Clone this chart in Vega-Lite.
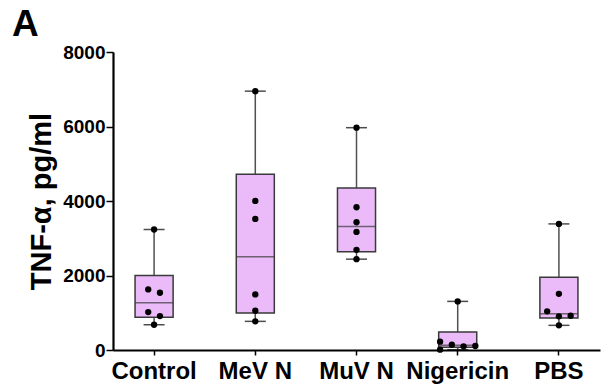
{
  "$schema": "https://vega.github.io/schema/vega-lite/v6.json",
  "width": 487,
  "height": 298,
  "autosize": {"type": "none"},
  "padding": {"left": 113, "top": 52, "right": 1, "bottom": 37},
  "background": "white",
  "config": {"view": {"stroke": null}, "font": "Liberation Sans"},
  "title": {"text": "A", "anchor": "start", "frame": "group", "fontSize": 37, "fontWeight": "bold", "color": "black", "font": "Liberation Sans", "dx": -101, "offset": -1},
  "datasets": {
    "summary": [
      {"group": "Control", "min": 678, "q1": 876, "median": 1268, "q3": 2000, "max": 3235},
      {"group": "MeV N", "min": 769, "q1": 992, "median": 2501, "q3": 4717, "max": 6949},
      {"group": "MuV N", "min": 2439, "q1": 2635, "median": 3315, "q3": 4350, "max": 5968},
      {"group": "Nigericin", "min": 8, "q1": 76, "median": 125, "q3": 480, "max": 1305},
      {"group": "PBS", "min": 662, "q1": 858, "median": 973, "q3": 1956, "max": 3385}
    ],
    "points": [
      {"group": "Control", "value": 3235, "slot": 0},
      {"group": "Control", "value": 1626, "slot": -0.5},
      {"group": "Control", "value": 1536, "slot": 0.5},
      {"group": "Control", "value": 1018, "slot": -0.5},
      {"group": "Control", "value": 911, "slot": 0.5},
      {"group": "Control", "value": 678, "slot": 0},
      {"group": "MeV N", "value": 6949, "slot": 0},
      {"group": "MeV N", "value": 4002, "slot": 0},
      {"group": "MeV N", "value": 3519, "slot": 0},
      {"group": "MeV N", "value": 1492, "slot": 0},
      {"group": "MeV N", "value": 1054, "slot": 0},
      {"group": "MeV N", "value": 769, "slot": 0},
      {"group": "MuV N", "value": 5968, "slot": 0},
      {"group": "MuV N", "value": 3832, "slot": 0},
      {"group": "MuV N", "value": 3430, "slot": 0},
      {"group": "MuV N", "value": 3171, "slot": 0},
      {"group": "MuV N", "value": 2688, "slot": 0},
      {"group": "MuV N", "value": 2439, "slot": 0},
      {"group": "Nigericin", "value": 1305, "slot": 0},
      {"group": "Nigericin", "value": 223, "slot": -1.5},
      {"group": "Nigericin", "value": 143, "slot": -0.5},
      {"group": "Nigericin", "value": 99, "slot": 0.5},
      {"group": "Nigericin", "value": 107, "slot": 1.5},
      {"group": "Nigericin", "value": 8, "slot": -1.5},
      {"group": "PBS", "value": 3385, "slot": 0},
      {"group": "PBS", "value": 1509, "slot": 0},
      {"group": "PBS", "value": 1037, "slot": -1},
      {"group": "PBS", "value": 919, "slot": 1},
      {"group": "PBS", "value": 903, "slot": 0},
      {"group": "PBS", "value": 662, "slot": 0}
    ]
  },
  "encoding": {
    "x": {
      "field": "group", "type": "nominal", "sort": ["Control", "MeV N", "MuV N", "Nigericin", "PBS"],
      "scale": {"paddingInner": 0.624, "paddingOuter": 0.218},
      "axis": {"title": null, "labelAngle": 0, "labelFontSize": 24, "labelFontWeight": "bold", "labelColor": "black", "labelFont": "Liberation Sans", "domainColor": "black", "domainWidth": 2.2, "tickColor": "black", "tickWidth": 1.5, "tickSize": 5, "labelPadding": 4}
    }
  },
  "resolve": {"scale": {"xOffset": "independent"}},
  "layer": [
    {
      "data": {"name": "summary"},
      "mark": {"type": "rule", "color": "#505050", "strokeWidth": 1.5},
      "encoding": {
        "y": {"field": "min", "type": "quantitative", "scale": {"domain": [0, 8000], "nice": false},
          "axis": {"orient": "left", "values": [0, 1000, 2000, 3000, 4000, 5000, 6000, 7000, 8000], "format": "d",
            "labelExpr": "datum.value % 2000 === 0 ? datum.label : ''",
            "tickSize": {"condition": {"test": "datum.value % 2000 === 0", "value": 7}, "value": 4},
            "title": "TNF-α, pg/ml", "titleFontSize": 29, "titleFontWeight": "bold", "titleColor": "black", "titleFont": "Liberation Sans", "titlePadding": 6, "labelFontSize": 19, "labelFontWeight": "bold", "labelColor": "black", "labelFont": "Liberation Sans", "domainColor": "black", "domainWidth": 2.2, "tickColor": "black", "tickWidth": 1.5, "labelPadding": 1, "grid": false}},
        "y2": {"field": "max"}
      }
    },
    {
      "data": {"name": "summary"},
      "mark": {"type": "bar", "fill": "#EBBBF9", "stroke": "#3a3a3a", "strokeWidth": 1.5, "width": {"band": 1}},
      "encoding": {
        "y": {"field": "q1", "type": "quantitative"},
        "y2": {"field": "q3"}
      }
    },
    {
      "data": {"name": "summary"},
      "mark": {"type": "tick", "color": "#3a3a3a", "thickness": 1.5, "size": 38},
      "encoding": {"y": {"field": "median", "type": "quantitative"}}
    },
    {
      "data": {"name": "summary"},
      "mark": {"type": "tick", "color": "black", "thickness": 1.5, "size": 21},
      "encoding": {"y": {"field": "min", "type": "quantitative"}}
    },
    {
      "data": {"name": "summary"},
      "mark": {"type": "tick", "color": "black", "thickness": 1.5, "size": 21},
      "encoding": {"y": {"field": "max", "type": "quantitative"}}
    },
    {
      "data": {"name": "points"},
      "mark": {"type": "circle", "color": "black", "opacity": 1, "size": 40},
      "encoding": {
        "y": {"field": "value", "type": "quantitative"},
        "xOffset": {"field": "slot", "type": "quantitative", "scale": {"domain": [-1.62, 1.62]}}
      }
    }
  ]
}
